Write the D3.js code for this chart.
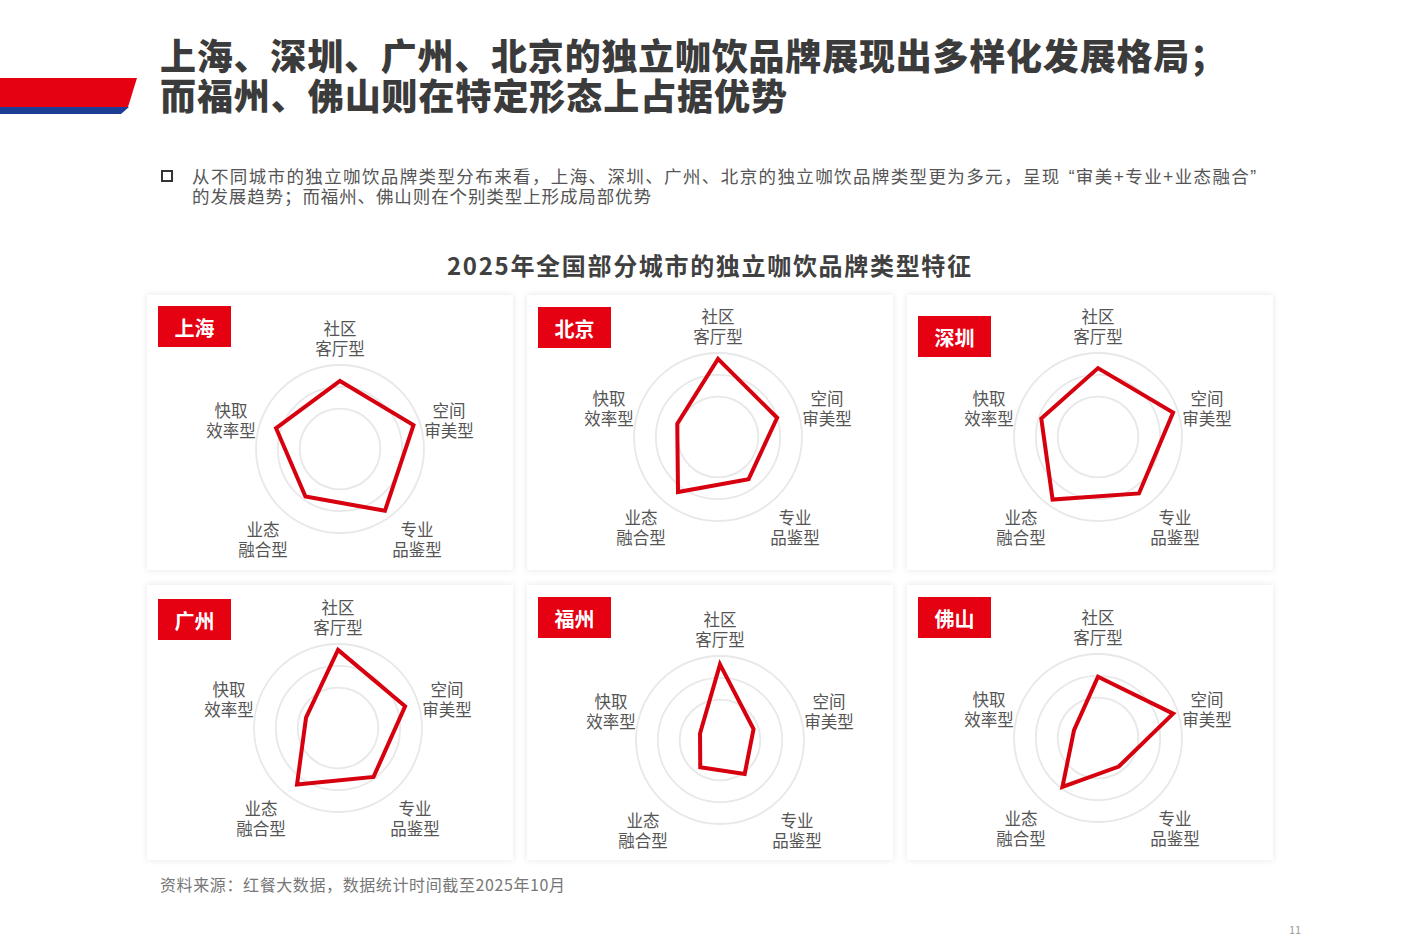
<!DOCTYPE html>
<html>
<head>
<meta charset="utf-8">
<script src="https://cdn.jsdelivr.net/npm/d3@7/dist/d3.min.js"></script>
<style>
  html, body { margin: 0; padding: 0; background: #ffffff; }
  svg { display: block; font-family: "Noto Sans CJK SC", "Noto Sans", sans-serif; }
  .tight { font-family: "Liberation Sans", "Noto Sans CJK SC", sans-serif; }
</style>
</head>
<body>
<svg id="chart" width="1417" height="945"></svg>
<script>
// ---------------- DATA ----------------
const titleLines = [
  "上海、深圳、广州、北京的独立咖饮品牌展现出多样化发展格局；",
  "而福州、佛山则在特定形态上占据优势"
];
// line 1 is split only so the opening quote can get its full-width gap
const bulletLine1Parts = [
  "从不同城市的独立咖饮品牌类型分布来看，上海、深圳、广州、北京的独立咖饮品牌类型更为多元，呈现",
  "“审美+专业+业态融合”"
];
const bulletLine2 = "的发展趋势；而福州、佛山则在个别类型上形成局部优势";
const chartTitle = "2025年全国部分城市的独立咖饮品牌类型特征";
const sourceText = "资料来源：红餐大数据，数据统计时间截至2025年10月";
const pageNumber = "11";

const axisLine1 = ["社区", "空间", "专业", "业态", "快取"];
const axisLine2 = ["客厅型", "审美型", "品鉴型", "融合型", "效率型"];

const cities = ["上海", "北京", "深圳", "广州", "福州", "佛山"];
const shanghai  = [81, 92, 91, 70, 80];
const beijing   = [93, 74, 62, 81, 51];
const shenzhen  = [82, 94, 83, 92, 71];
const guangzhou = [93, 84, 72, 83, 40];
const fuzhou    = [90, 42, 50, 40, 25];
const foshan    = [73, 94, 42, 72, 30];
const cityValues = [shanghai, beijing, shenzhen, guangzhou, fuzhou, foshan];
const gridLevels = [48, 74, 100];

// ---------------- LAYOUT ----------------
const svg = d3.select("#chart");
const RED = "#e50012";
const BLUE = "#1d3c94";

const defs = svg.append("defs");
const f = defs.append("filter").attr("id", "shadow")
  .attr("x", "-5%").attr("y", "-5%").attr("width", "110%").attr("height", "110%");
f.append("feDropShadow").attr("dx", 0).attr("dy", 0).attr("stdDeviation", 3)
  .attr("flood-color", "#000").attr("flood-opacity", 0.10);

// header bar
svg.append("path").attr("d", "M0,78 L137,78 L128,107 L0,107 Z").attr("fill", RED);
svg.append("path").attr("d", "M0,107 L129,107 L121,114 L0,114 Z").attr("fill", BLUE);

// title
const titleLen = [1066, 627];
svg.append("g").attr("class", "tight").selectAll("text").data(titleLines).join("text")
  .attr("x", 160).attr("y", (d, i) => 70 + i * 40)
  .attr("font-size", 36).attr("font-weight", 900).attr("fill", "#3b3b3b")
  .attr("textLength", (d, i) => titleLen[i]).attr("lengthAdjust", "spacing")
  .text(d => d);

// bullet
svg.append("rect").attr("x", 162).attr("y", 171).attr("width", 10).attr("height", 10)
  .attr("fill", "none").attr("stroke", "#333").attr("stroke-width", 2);
const b1 = svg.append("text").attr("class", "tight")
  .attr("x", 192).attr("y", 183).attr("font-size", 17.5).attr("fill", "#555")
  .attr("textLength", 1064).attr("lengthAdjust", "spacing");
b1.append("tspan").text(bulletLine1Parts[0]);
b1.append("tspan").attr("dx", 8).text(bulletLine1Parts[1]);
svg.append("text").attr("class", "tight")
  .attr("x", 192).attr("y", 203).attr("font-size", 17.5).attr("fill", "#555")
  .attr("textLength", 459).attr("lengthAdjust", "spacing").text(bulletLine2);

// chart title
svg.append("text").attr("x", 447).attr("y", 275)
  .attr("font-size", 24).attr("font-weight", 700).attr("fill", "#404040")
  .attr("textLength", 524).attr("lengthAdjust", "spacing").text(chartTitle);

// panels
const panelX = [147, 527, 907];
const panelY = [295, 585];
const panelW = 366, panelH = 275;
const centerDY = [154, 142, 142, 143, 155, 153];
const centerDX = [193, 191, 191, 191, 193, 191];
const badgeDY = [11, 12, 21, 14, 12, 12];

const r = d3.scaleLinear().domain([0, 100]).range([0, 84]);
const angle = i => i * 2 * Math.PI / 5;
const line = d3.lineRadial().angle((d, i) => angle(i)).radius(d => r(d)).curve(d3.curveLinearClosed);

// label offsets per axis: [dx, dy of first line]
const labelOff = [[0, -120], [109, -38], [77, 81], [-77, 81], [-109, -38]];

cities.forEach((city, k) => {
  const px = panelX[k % 3], py = panelY[Math.floor(k / 3)];
  const g = svg.append("g");
  g.append("rect").attr("x", px).attr("y", py).attr("width", panelW).attr("height", panelH)
    .attr("fill", "#fff").attr("filter", "url(#shadow)");

  // badge
  g.append("rect").attr("x", px + 11).attr("y", py + badgeDY[k]).attr("width", 73).attr("height", 41).attr("fill", RED);
  g.append("text").attr("x", px + 11 + 36.5).attr("y", py + badgeDY[k] + 21)
    .attr("text-anchor", "middle").attr("dominant-baseline", "central")
    .attr("font-size", 20).attr("font-weight", 700).attr("fill", "#fff").text(city);

  const cx = px + centerDX[k], cy = py + centerDY[k];
  const c = g.append("g").attr("transform", `translate(${cx},${cy})`);
  c.selectAll("circle").data(gridLevels).join("circle")
    .attr("r", d => r(d)).attr("fill", "none").attr("stroke", "#e8e8e8").attr("stroke-width", 1.8);

  c.append("path").datum(cityValues[k]).attr("d", line)
    .attr("fill", "none").attr("stroke", "#d7000f").attr("stroke-width", 4).attr("stroke-linejoin", "miter");

  axisLine1.forEach((t, i) => {
    const [dx, dy] = labelOff[i];
    [t, axisLine2[i]].forEach((s, j) => {
      c.append("text").attr("class", "tight").attr("text-anchor", "middle")
        .attr("font-size", 16.5).attr("fill", "#555")
        .attr("x", dx).attr("y", dy + j * 20 + 6).text(s);
    });
  });
});

// source
svg.append("text").attr("x", 160).attr("y", 891).attr("font-size", 16).attr("fill", "#777")
  .attr("textLength", 405).attr("lengthAdjust", "spacing").text(sourceText);
// page number
svg.append("text").attr("x", 1295).attr("y", 934).attr("text-anchor", "middle").attr("font-size", 11).attr("fill", "#999").text(pageNumber);
</script>
</body>
</html>
